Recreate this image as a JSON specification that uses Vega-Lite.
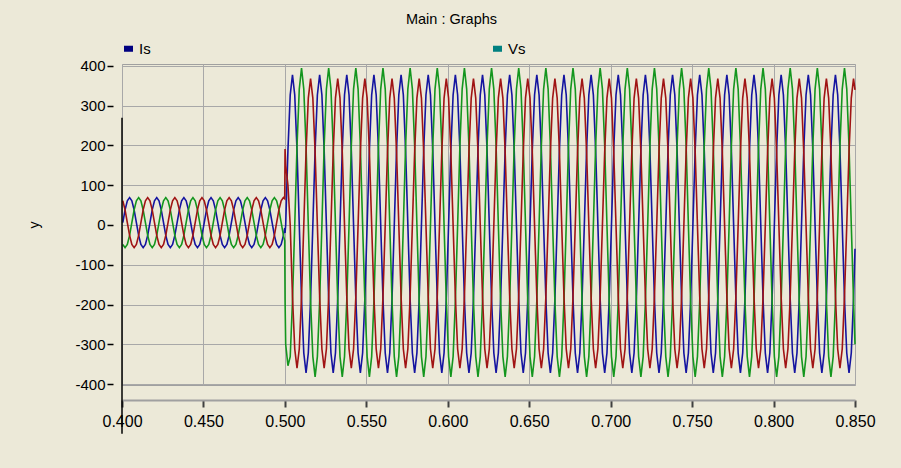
{
"$schema":"https://vega.github.io/schema/vega-lite/v6.json",
"width":733,"height":321,
"autosize":{"type":"none"},
"padding":{"left":122,"top":64,"right":46,"bottom":83},
"background":"#ECE9D8",
"title":{"text":"Main : Graphs","font":"Liberation Sans","fontSize":14.5,"fontWeight":"normal","color":"#000000","anchor":"middle","frame":"group","dx":-37,"offset":14},
"config":{"view":{"fill":"#FFFFFF","stroke":"#A0A0A0","strokeWidth":1},"font":"Liberation Sans"},
"layer":[
{"data":{"values":[
{"t":0.40049,"a":6,"b":-49,"c":61},{"t":0.40188,"a":38,"b":-57,"c":38},{"t":0.40327,"a":61,"b":-49,"c":6},
{"t":0.40466,"a":69,"b":-26,"c":-26},{"t":0.40605,"a":61,"b":6,"c":-49},{"t":0.40744,"a":38,"b":38,"c":-57},{"t":0.40883,"a":6,"b":61,"c":-49},{"t":0.41022,"a":-26,"b":69,"c":-26},{"t":0.41160,"a":-49,"b":61,"c":6},{"t":0.41299,"a":-57,"b":38,"c":38},{"t":0.41438,"a":-49,"b":6,"c":61},{"t":0.41577,"a":-26,"b":-26,"c":69},{"t":0.41716,"a":6,"b":-49,"c":61},{"t":0.41855,"a":38,"b":-57,"c":38},{"t":0.41994,"a":61,"b":-49,"c":6},
{"t":0.42133,"a":69,"b":-26,"c":-26},{"t":0.42272,"a":61,"b":6,"c":-49},{"t":0.42410,"a":38,"b":38,"c":-57},{"t":0.42549,"a":6,"b":61,"c":-49},{"t":0.42688,"a":-26,"b":69,"c":-26},{"t":0.42827,"a":-49,"b":61,"c":6},{"t":0.42966,"a":-57,"b":38,"c":38},{"t":0.43105,"a":-49,"b":6,"c":61},{"t":0.43244,"a":-26,"b":-26,"c":69},{"t":0.43383,"a":6,"b":-49,"c":61},{"t":0.43522,"a":38,"b":-57,"c":38},{"t":0.43660,"a":61,"b":-49,"c":6},
{"t":0.43799,"a":69,"b":-26,"c":-26},{"t":0.43938,"a":61,"b":6,"c":-49},{"t":0.44077,"a":38,"b":38,"c":-57},{"t":0.44216,"a":6,"b":61,"c":-49},{"t":0.44355,"a":-26,"b":69,"c":-26},{"t":0.44494,"a":-49,"b":61,"c":6},{"t":0.44633,"a":-57,"b":38,"c":38},{"t":0.44772,"a":-49,"b":6,"c":61},{"t":0.44910,"a":-26,"b":-26,"c":69},{"t":0.45049,"a":6,"b":-49,"c":61},{"t":0.45188,"a":38,"b":-57,"c":38},{"t":0.45327,"a":61,"b":-49,"c":6},
{"t":0.45466,"a":69,"b":-26,"c":-26},{"t":0.45605,"a":61,"b":6,"c":-49},{"t":0.45744,"a":38,"b":38,"c":-57},{"t":0.45883,"a":6,"b":61,"c":-49},{"t":0.46022,"a":-26,"b":69,"c":-26},{"t":0.46160,"a":-49,"b":61,"c":6},{"t":0.46299,"a":-57,"b":38,"c":38},{"t":0.46438,"a":-49,"b":6,"c":61},{"t":0.46577,"a":-26,"b":-26,"c":69},{"t":0.46716,"a":6,"b":-49,"c":61},{"t":0.46855,"a":38,"b":-57,"c":38},{"t":0.46994,"a":61,"b":-49,"c":6},
{"t":0.47133,"a":69,"b":-26,"c":-26},{"t":0.47272,"a":61,"b":6,"c":-49},{"t":0.47410,"a":38,"b":38,"c":-57},{"t":0.47549,"a":6,"b":61,"c":-49},{"t":0.47688,"a":-26,"b":69,"c":-26},{"t":0.47827,"a":-49,"b":61,"c":6},{"t":0.47966,"a":-57,"b":38,"c":38},{"t":0.48105,"a":-49,"b":6,"c":61},{"t":0.48244,"a":-26,"b":-26,"c":69},{"t":0.48383,"a":6,"b":-49,"c":61},{"t":0.48522,"a":38,"b":-57,"c":38},{"t":0.48660,"a":61,"b":-49,"c":6},
{"t":0.48799,"a":69,"b":-26,"c":-26},{"t":0.48938,"a":61,"b":6,"c":-49},{"t":0.49077,"a":38,"b":38,"c":-57},{"t":0.49216,"a":6,"b":61,"c":-49},{"t":0.49355,"a":-26,"b":69,"c":-26},{"t":0.49494,"a":-49,"b":61,"c":6},{"t":0.49633,"a":-57,"b":38,"c":38},{"t":0.49772,"a":-49,"b":6,"c":61},{"t":0.49910,"a":-26,"b":-26,"c":69},
{"t":0.4999,"a":-8,"b":-40,"c":66},{"t":0.5001,"a":-20,"b":-186,"c":191},{"t":0.50049,"a":0,"b":-300,"c":150},{"t":0.50188,"a":189,"b":-354,"c":100},{"t":0.50327,"a":327,"b":-331,"c":0},
{"t":0.50466,"a":378,"b":-191,"c":-180},{"t":0.50605,"a":327,"b":0,"c":-312},{"t":0.50744,"a":189,"b":198,"c":-360},{"t":0.50883,"a":0,"b":342,"c":-312},{"t":0.51022,"a":-186,"b":395,"c":-180},{"t":0.51160,"a":-322,"b":342,"c":0},{"t":0.51299,"a":-372,"b":198,"c":184},{"t":0.51438,"a":-322,"b":0,"c":319},{"t":0.51577,"a":-186,"b":-191,"c":368},{"t":0.51716,"a":0,"b":-331,"c":319},{"t":0.51855,"a":189,"b":-382,"c":184},{"t":0.51994,"a":327,"b":-331,"c":0},
{"t":0.52133,"a":378,"b":-191,"c":-180},{"t":0.52272,"a":327,"b":0,"c":-312},{"t":0.52410,"a":189,"b":198,"c":-360},{"t":0.52549,"a":0,"b":342,"c":-312},{"t":0.52688,"a":-186,"b":395,"c":-180},{"t":0.52827,"a":-322,"b":342,"c":0},{"t":0.52966,"a":-372,"b":198,"c":184},{"t":0.53105,"a":-322,"b":0,"c":319},{"t":0.53244,"a":-186,"b":-191,"c":368},{"t":0.53383,"a":0,"b":-331,"c":319},{"t":0.53522,"a":189,"b":-382,"c":184},{"t":0.53660,"a":327,"b":-331,"c":0},
{"t":0.53799,"a":378,"b":-191,"c":-180},{"t":0.53938,"a":327,"b":0,"c":-312},{"t":0.54077,"a":189,"b":198,"c":-360},{"t":0.54216,"a":0,"b":342,"c":-312},{"t":0.54355,"a":-186,"b":395,"c":-180},{"t":0.54494,"a":-322,"b":342,"c":0},{"t":0.54633,"a":-372,"b":198,"c":184},{"t":0.54772,"a":-322,"b":0,"c":319},{"t":0.54910,"a":-186,"b":-191,"c":368},{"t":0.55049,"a":0,"b":-331,"c":319},{"t":0.55188,"a":189,"b":-382,"c":184},{"t":0.55327,"a":327,"b":-331,"c":0},
{"t":0.55466,"a":378,"b":-191,"c":-180},{"t":0.55605,"a":327,"b":0,"c":-312},{"t":0.55744,"a":189,"b":198,"c":-360},{"t":0.55883,"a":0,"b":342,"c":-312},{"t":0.56022,"a":-186,"b":395,"c":-180},{"t":0.56160,"a":-322,"b":342,"c":0},{"t":0.56299,"a":-372,"b":198,"c":184},{"t":0.56438,"a":-322,"b":0,"c":319},{"t":0.56577,"a":-186,"b":-191,"c":368},{"t":0.56716,"a":0,"b":-331,"c":319},{"t":0.56855,"a":189,"b":-382,"c":184},{"t":0.56994,"a":327,"b":-331,"c":0},
{"t":0.57133,"a":378,"b":-191,"c":-180},{"t":0.57272,"a":327,"b":0,"c":-312},{"t":0.57410,"a":189,"b":198,"c":-360},{"t":0.57549,"a":0,"b":342,"c":-312},{"t":0.57688,"a":-186,"b":395,"c":-180},{"t":0.57827,"a":-322,"b":342,"c":0},{"t":0.57966,"a":-372,"b":198,"c":184},{"t":0.58105,"a":-322,"b":0,"c":319},{"t":0.58244,"a":-186,"b":-191,"c":368},{"t":0.58383,"a":0,"b":-331,"c":319},{"t":0.58522,"a":189,"b":-382,"c":184},{"t":0.58660,"a":327,"b":-331,"c":0},
{"t":0.58799,"a":378,"b":-191,"c":-180},{"t":0.58938,"a":327,"b":0,"c":-312},{"t":0.59077,"a":189,"b":198,"c":-360},{"t":0.59216,"a":0,"b":342,"c":-312},{"t":0.59355,"a":-186,"b":395,"c":-180},{"t":0.59494,"a":-322,"b":342,"c":0},{"t":0.59633,"a":-372,"b":198,"c":184},{"t":0.59772,"a":-322,"b":0,"c":319},{"t":0.59910,"a":-186,"b":-191,"c":368},{"t":0.60049,"a":0,"b":-331,"c":319},{"t":0.60188,"a":189,"b":-382,"c":184},{"t":0.60327,"a":327,"b":-331,"c":0},
{"t":0.60466,"a":378,"b":-191,"c":-180},{"t":0.60605,"a":327,"b":0,"c":-312},{"t":0.60744,"a":189,"b":198,"c":-360},{"t":0.60883,"a":0,"b":342,"c":-312},{"t":0.61022,"a":-186,"b":395,"c":-180},{"t":0.61160,"a":-322,"b":342,"c":0},{"t":0.61299,"a":-372,"b":198,"c":184},{"t":0.61438,"a":-322,"b":0,"c":319},{"t":0.61577,"a":-186,"b":-191,"c":368},{"t":0.61716,"a":0,"b":-331,"c":319},{"t":0.61855,"a":189,"b":-382,"c":184},{"t":0.61994,"a":327,"b":-331,"c":0},
{"t":0.62133,"a":378,"b":-191,"c":-180},{"t":0.62272,"a":327,"b":0,"c":-312},{"t":0.62410,"a":189,"b":198,"c":-360},{"t":0.62549,"a":0,"b":342,"c":-312},{"t":0.62688,"a":-186,"b":395,"c":-180},{"t":0.62827,"a":-322,"b":342,"c":0},{"t":0.62966,"a":-372,"b":198,"c":184},{"t":0.63105,"a":-322,"b":0,"c":319},{"t":0.63244,"a":-186,"b":-191,"c":368},{"t":0.63383,"a":0,"b":-331,"c":319},{"t":0.63522,"a":189,"b":-382,"c":184},{"t":0.63660,"a":327,"b":-331,"c":0},
{"t":0.63799,"a":378,"b":-191,"c":-180},{"t":0.63938,"a":327,"b":0,"c":-312},{"t":0.64077,"a":189,"b":198,"c":-360},{"t":0.64216,"a":0,"b":342,"c":-312},{"t":0.64355,"a":-186,"b":395,"c":-180},{"t":0.64494,"a":-322,"b":342,"c":0},{"t":0.64633,"a":-372,"b":198,"c":184},{"t":0.64772,"a":-322,"b":0,"c":319},{"t":0.64910,"a":-186,"b":-191,"c":368},{"t":0.65049,"a":0,"b":-331,"c":319},{"t":0.65188,"a":189,"b":-382,"c":184},{"t":0.65327,"a":327,"b":-331,"c":0},
{"t":0.65466,"a":378,"b":-191,"c":-180},{"t":0.65605,"a":327,"b":0,"c":-312},{"t":0.65744,"a":189,"b":198,"c":-360},{"t":0.65883,"a":0,"b":342,"c":-312},{"t":0.66022,"a":-186,"b":395,"c":-180},{"t":0.66160,"a":-322,"b":342,"c":0},{"t":0.66299,"a":-372,"b":198,"c":184},{"t":0.66438,"a":-322,"b":0,"c":319},{"t":0.66577,"a":-186,"b":-191,"c":368},{"t":0.66716,"a":0,"b":-331,"c":319},{"t":0.66855,"a":189,"b":-382,"c":184},{"t":0.66994,"a":327,"b":-331,"c":0},
{"t":0.67133,"a":378,"b":-191,"c":-180},{"t":0.67272,"a":327,"b":0,"c":-312},{"t":0.67410,"a":189,"b":198,"c":-360},{"t":0.67549,"a":0,"b":342,"c":-312},{"t":0.67688,"a":-186,"b":395,"c":-180},{"t":0.67827,"a":-322,"b":342,"c":0},{"t":0.67966,"a":-372,"b":198,"c":184},{"t":0.68105,"a":-322,"b":0,"c":319},{"t":0.68244,"a":-186,"b":-191,"c":368},{"t":0.68383,"a":0,"b":-331,"c":319},{"t":0.68522,"a":189,"b":-382,"c":184},{"t":0.68660,"a":327,"b":-331,"c":0},
{"t":0.68799,"a":378,"b":-191,"c":-180},{"t":0.68938,"a":327,"b":0,"c":-312},{"t":0.69077,"a":189,"b":198,"c":-360},{"t":0.69216,"a":0,"b":342,"c":-312},{"t":0.69355,"a":-186,"b":395,"c":-180},{"t":0.69494,"a":-322,"b":342,"c":0},{"t":0.69633,"a":-372,"b":198,"c":184},{"t":0.69772,"a":-322,"b":0,"c":319},{"t":0.69910,"a":-186,"b":-191,"c":368},{"t":0.70049,"a":0,"b":-331,"c":319},{"t":0.70188,"a":189,"b":-382,"c":184},{"t":0.70327,"a":327,"b":-331,"c":0},
{"t":0.70466,"a":378,"b":-191,"c":-180},{"t":0.70605,"a":327,"b":0,"c":-312},{"t":0.70744,"a":189,"b":198,"c":-360},{"t":0.70883,"a":0,"b":342,"c":-312},{"t":0.71022,"a":-186,"b":395,"c":-180},{"t":0.71160,"a":-322,"b":342,"c":0},{"t":0.71299,"a":-372,"b":198,"c":184},{"t":0.71438,"a":-322,"b":0,"c":319},{"t":0.71577,"a":-186,"b":-191,"c":368},{"t":0.71716,"a":0,"b":-331,"c":319},{"t":0.71855,"a":189,"b":-382,"c":184},{"t":0.71994,"a":327,"b":-331,"c":0},
{"t":0.72133,"a":378,"b":-191,"c":-180},{"t":0.72272,"a":327,"b":0,"c":-312},{"t":0.72410,"a":189,"b":198,"c":-360},{"t":0.72549,"a":0,"b":342,"c":-312},{"t":0.72688,"a":-186,"b":395,"c":-180},{"t":0.72827,"a":-322,"b":342,"c":0},{"t":0.72966,"a":-372,"b":198,"c":184},{"t":0.73105,"a":-322,"b":0,"c":319},{"t":0.73244,"a":-186,"b":-191,"c":368},{"t":0.73383,"a":0,"b":-331,"c":319},{"t":0.73522,"a":189,"b":-382,"c":184},{"t":0.73660,"a":327,"b":-331,"c":0},
{"t":0.73799,"a":378,"b":-191,"c":-180},{"t":0.73938,"a":327,"b":0,"c":-312},{"t":0.74077,"a":189,"b":198,"c":-360},{"t":0.74216,"a":0,"b":342,"c":-312},{"t":0.74355,"a":-186,"b":395,"c":-180},{"t":0.74494,"a":-322,"b":342,"c":0},{"t":0.74633,"a":-372,"b":198,"c":184},{"t":0.74772,"a":-322,"b":0,"c":319},{"t":0.74910,"a":-186,"b":-191,"c":368},{"t":0.75049,"a":0,"b":-331,"c":319},{"t":0.75188,"a":189,"b":-382,"c":184},{"t":0.75327,"a":327,"b":-331,"c":0},
{"t":0.75466,"a":378,"b":-191,"c":-180},{"t":0.75605,"a":327,"b":0,"c":-312},{"t":0.75744,"a":189,"b":198,"c":-360},{"t":0.75883,"a":0,"b":342,"c":-312},{"t":0.76022,"a":-186,"b":395,"c":-180},{"t":0.76160,"a":-322,"b":342,"c":0},{"t":0.76299,"a":-372,"b":198,"c":184},{"t":0.76438,"a":-322,"b":0,"c":319},{"t":0.76577,"a":-186,"b":-191,"c":368},{"t":0.76716,"a":0,"b":-331,"c":319},{"t":0.76855,"a":189,"b":-382,"c":184},{"t":0.76994,"a":327,"b":-331,"c":0},
{"t":0.77133,"a":378,"b":-191,"c":-180},{"t":0.77272,"a":327,"b":0,"c":-312},{"t":0.77410,"a":189,"b":198,"c":-360},{"t":0.77549,"a":0,"b":342,"c":-312},{"t":0.77688,"a":-186,"b":395,"c":-180},{"t":0.77827,"a":-322,"b":342,"c":0},{"t":0.77966,"a":-372,"b":198,"c":184},{"t":0.78105,"a":-322,"b":0,"c":319},{"t":0.78244,"a":-186,"b":-191,"c":368},{"t":0.78383,"a":0,"b":-331,"c":319},{"t":0.78522,"a":189,"b":-382,"c":184},{"t":0.78660,"a":327,"b":-331,"c":0},
{"t":0.78799,"a":378,"b":-191,"c":-180},{"t":0.78938,"a":327,"b":0,"c":-312},{"t":0.79077,"a":189,"b":198,"c":-360},{"t":0.79216,"a":0,"b":342,"c":-312},{"t":0.79355,"a":-186,"b":395,"c":-180},{"t":0.79494,"a":-322,"b":342,"c":0},{"t":0.79633,"a":-372,"b":198,"c":184},{"t":0.79772,"a":-322,"b":0,"c":319},{"t":0.79910,"a":-186,"b":-191,"c":368},{"t":0.80049,"a":0,"b":-331,"c":319},{"t":0.80188,"a":189,"b":-382,"c":184},{"t":0.80327,"a":327,"b":-331,"c":0},
{"t":0.80466,"a":378,"b":-191,"c":-180},{"t":0.80605,"a":327,"b":0,"c":-312},{"t":0.80744,"a":189,"b":198,"c":-360},{"t":0.80883,"a":0,"b":342,"c":-312},{"t":0.81022,"a":-186,"b":395,"c":-180},{"t":0.81160,"a":-322,"b":342,"c":0},{"t":0.81299,"a":-372,"b":198,"c":184},{"t":0.81438,"a":-322,"b":0,"c":319},{"t":0.81577,"a":-186,"b":-191,"c":368},{"t":0.81716,"a":0,"b":-331,"c":319},{"t":0.81855,"a":189,"b":-382,"c":184},{"t":0.81994,"a":327,"b":-331,"c":0},
{"t":0.82133,"a":378,"b":-191,"c":-180},{"t":0.82272,"a":327,"b":0,"c":-312},{"t":0.82410,"a":189,"b":198,"c":-360},{"t":0.82549,"a":0,"b":342,"c":-312},{"t":0.82688,"a":-186,"b":395,"c":-180},{"t":0.82827,"a":-322,"b":342,"c":0},{"t":0.82966,"a":-372,"b":198,"c":184},{"t":0.83105,"a":-322,"b":0,"c":319},{"t":0.83244,"a":-186,"b":-191,"c":368},{"t":0.83383,"a":0,"b":-331,"c":319},{"t":0.83522,"a":189,"b":-382,"c":184},{"t":0.83660,"a":327,"b":-331,"c":0},
{"t":0.83799,"a":378,"b":-191,"c":-180},{"t":0.83938,"a":327,"b":0,"c":-312},{"t":0.84077,"a":189,"b":198,"c":-360},{"t":0.84216,"a":0,"b":342,"c":-312},{"t":0.84355,"a":-186,"b":395,"c":-180},{"t":0.84494,"a":-322,"b":342,"c":0},{"t":0.84633,"a":-372,"b":198,"c":184},{"t":0.84772,"a":-322,"b":0,"c":319},{"t":0.84910,"a":-186,"b":-191,"c":368},{"t":0.85,"a":-60,"b":-300,"c":340}
]},
"transform":[{"fold":["a","b","c"],"as":["phase","v"]}],
"mark":{"type":"line","strokeWidth":1.6},
"encoding":{
"x":{"field":"t","type":"quantitative","scale":{"domain":[0.4,0.85],"nice":false,"zero":false},
"axis":{"values":[0.4,0.45,0.5,0.55,0.6,0.65,0.7,0.75,0.8,0.85],"format":".3f","title":null,"offset":15,"domainColor":"#A0A0A0","domainWidth":2,"tickColor":"#404040","tickWidth":2,"tickSize":7,"labelPadding":6,"labelFontSize":16,"labelColor":"#000000","labelFont":"Liberation Sans","labelFlush":false,"labelOverlap":false,"grid":true,"gridColor":"#A8A8A8","gridWidth":1}},
"y":{"field":"v","type":"quantitative","scale":{"domain":[-402.5,405],"nice":false,"zero":false},
"axis":{"values":[-400,-300,-200,-100,0,100,200,300,400],"labelExpr":"datum.value < 0 ? '-' + abs(datum.value) : '' + datum.value","title":"y","titleFont":"Liberation Sans","titleFontSize":14,"titleFontWeight":"normal","titleColor":"#000000","titlePadding":33,"offset":9,"domain":false,"tickColor":"#000000","tickSize":6,"tickWidth":1.5,"labelPadding":2,"labelFontSize":15,"labelFont":"Liberation Sans","labelColor":"#000000","labelFlush":false,"labelOverlap":false,"grid":true,"gridColor":"#A8A8A8","gridWidth":1}},
"stroke":{"field":"phase","type":"nominal","scale":{"domain":["a","b","c"],"range":["#1414A0","#14961E","#A01414"]},"legend":null}
}},
{"data":{"values":[{"sig":"Is"},{"sig":"Vs"}]},
"mark":{"type":"point","filled":true,"opacity":0},
"encoding":{"fill":{"field":"sig","type":"nominal","scale":{"domain":["Is","Vs"],"range":["#000080","#008080"]},
"legend":{"title":null,"orient":"none","legendX":-1,"legendY":-23,"direction":"horizontal","columns":2,"columnPadding":339,"symbolType":"M-1,-0.67H1V0.67H-1Z","symbolSize":81,"symbolOpacity":1,"symbolStrokeWidth":0,"labelFontSize":15,"labelFont":"Liberation Sans","labelColor":"#000000","labelOffset":3,"padding":0}}}},
{"data":{"values":[{"marker":"cursor"}]},
"mark":{"type":"rule","color":"#000000","strokeWidth":1.5,"clip":false},
"encoding":{"x":{"datum":0.4},"y":{"datum":270},"y2":{"datum":-525}}}
]
}
